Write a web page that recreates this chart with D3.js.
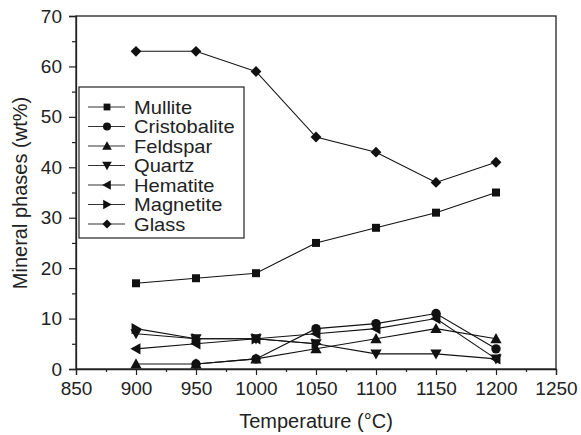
<!DOCTYPE html>
<html>
<head>
<meta charset="utf-8">
<script src="https://cdn.jsdelivr.net/npm/d3@7"></script>
<style>
  body { margin: 0; background: #fff; }
  svg { font-family: "Liberation Sans", Arial, sans-serif; }
</style>
</head>
<body>
<div id="chart"></div>
<script>
// temperatures (x) and wt% per phase
let temps = [900, 950, 1000, 1050, 1100, 1150, 1200];
let mullite = [17, 18, 19, 25, 28, 31, 35];
let cristobalite = [null, 1, 2, 8, 9, 11, 4];
let feldspar = [1, 1, 2, 4, 6, 8, 6];
let quartz = [7, 6, 6, 5, 3, 3, 2];
let hematite = [4, 5, 6, 7, 8, 10, 2];
let magnetite = [8, 6, 6, 5, null, null, null];
let glass = [63, 63, 59, 46, 43, 37, 41];

let seriesNames = ["Mullite", "Cristobalite", "Feldspar", "Quartz", "Hematite", "Magnetite", "Glass"];
let seriesValues = [mullite, cristobalite, feldspar, quartz, hematite, magnetite, glass];
let markerShapes = ["square", "circle", "up", "down", "left", "right", "diamond"];

let xTicks = [850, 900, 950, 1000, 1050, 1100, 1150, 1200, 1250];
let yTicks = [0, 10, 20, 30, 40, 50, 60, 70];

let width = 581, height = 435;
let margin = {top: 16, right: 25, bottom: 66, left: 76};

let svg = d3.select("#chart").append("svg")
    .attr("width", width)
    .attr("height", height);

let x = d3.scaleLinear().domain([850, 1250]).range([margin.left, width - margin.right]);
let y = d3.scaleLinear().domain([0, 70]).range([height - margin.bottom, margin.top]);

// marker path, centred on 0,0
function marker(shape, r) {
    if (shape == "circle") return d3.symbol(d3.symbolCircle, Math.PI * r * r)();
    if (shape == "square") { let s = r * 0.85; return `M${-s},${-s}H${s}V${s}H${-s}Z`; }
    if (shape == "diamond") { let s = r * 1.15; return `M0,${-s}L${s},0L0,${s}L${-s},0Z`; }
    let a = r * 1.2, b = r * 0.95;
    if (shape == "up") return `M0,${-a}L${a},${b}L${-a},${b}Z`;
    if (shape == "down") return `M0,${a}L${a},${-b}L${-a},${-b}Z`;
    if (shape == "left") return `M${-a},0L${b},${-a}L${b},${a}Z`;
    if (shape == "right") return `M${a},0L${-b},${-a}L${-b},${a}Z`;
}

// frame
svg.append("rect")
    .attr("x", x(850)).attr("y", y(70))
    .attr("width", x(1250) - x(850)).attr("height", y(0) - y(70))
    .attr("fill", "none").attr("stroke", "#222").attr("stroke-width", 1.3);

// axes
svg.append("g").attr("transform", `translate(0,${y(0)})`)
    .call(d3.axisBottom(x).tickValues(xTicks).tickSize(6).tickPadding(7).tickFormat(d3.format("d")));
svg.append("g").attr("transform", `translate(0,${y(0)})`)
    .call(d3.axisBottom(x).tickValues(d3.range(875, 1250, 50)).tickSize(3).tickFormat(""))
    .select(".domain").remove();
svg.append("g").attr("transform", `translate(${x(850)},0)`)
    .call(d3.axisLeft(y).tickValues(yTicks).tickSize(7).tickPadding(7));
svg.append("g").attr("transform", `translate(${x(850)},0)`)
    .call(d3.axisLeft(y).tickValues(d3.range(5, 70, 10)).tickSize(4).tickFormat(""))
    .select(".domain").remove();

svg.selectAll(".domain").attr("stroke", "#222").attr("stroke-width", 1.3);
svg.selectAll(".tick line").attr("stroke", "#222").attr("stroke-width", 1.2);
svg.selectAll(".tick text").attr("font-size", 19).attr("fill", "#222")
    .attr("font-family", "Liberation Sans, Arial, sans-serif");

// axis titles
svg.append("text")
    .attr("x", (x(850) + x(1250)) / 2).attr("y", 428)
    .attr("text-anchor", "middle").attr("font-size", 20).attr("fill", "#222")
    .text("Temperature (°C)");
svg.append("text")
    .attr("transform", "translate(27,193) rotate(-90)")
    .attr("text-anchor", "middle").attr("font-size", 20).attr("fill", "#222")
    .text("Mineral phases (wt%)");

// series
let line = d3.line()
    .defined(d => d[1] != null)
    .x(d => x(d[0]))
    .y(d => y(d[1]));

for (let i = 0; i < seriesNames.length; i++) {
    let pts = temps.map((t, j) => [t, seriesValues[i][j]]);
    svg.append("path")
        .datum(pts)
        .attr("d", line)
        .attr("fill", "none").attr("stroke", "#111").attr("stroke-width", 1.1);
    svg.selectAll(null)
        .data(pts.filter(d => d[1] != null))
        .enter().append("path")
        .attr("d", marker(markerShapes[i], 4.7))
        .attr("transform", d => `translate(${x(d[0])},${y(d[1])})`)
        .attr("fill", "#111");
}

// legend
let legend = svg.append("g");
legend.append("rect")
    .attr("x", 79).attr("y", 87).attr("width", 165).attr("height", 151)
    .attr("fill", "#fff").attr("stroke", "#222").attr("stroke-width", 1.2);
seriesNames.forEach((name, i) => {
    let ly = 107 + i * 19.5;
    legend.append("line")
        .attr("x1", 88).attr("x2", 125).attr("y1", ly).attr("y2", ly)
        .attr("stroke", "#333").attr("stroke-width", 1.1);
    legend.append("path")
        .attr("d", marker(markerShapes[i], 4))
        .attr("transform", `translate(107,${ly})`)
        .attr("fill", "#111");
    // the reference type is a little wide; stretch a smaller size to keep rows apart
    legend.append("text")
        .attr("transform", `translate(134,${ly + 6.5}) scale(1.15,1)`)
        .attr("font-size", 17.5).attr("fill", "#222")
        .text(name);
});
</script>
</body>
</html>
